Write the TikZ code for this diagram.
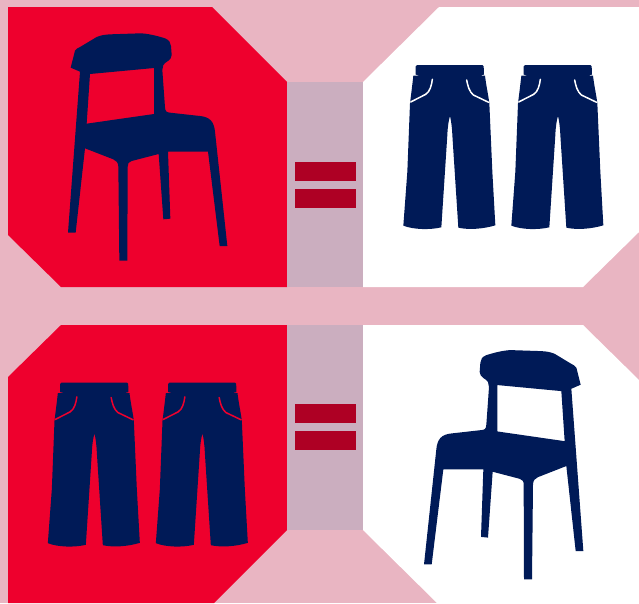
\documentclass[tikz,border=0pt]{standalone}
\definecolor{cPink}{HTML}{E9B5C2}
\definecolor{cMauve}{HTML}{CBAEBF}
\definecolor{cRed}{HTML}{EE002D}
\definecolor{cNavy}{HTML}{001A57}
\definecolor{cBar}{HTML}{AE0024}
\tikzset{
  garment/.style={fill=cNavy,draw=none,even odd rule},
  pocket/.style={line width=1.5pt,line cap=round},
  bar/.style={fill=cBar,draw=none},
  band/.style={fill=cMauve,draw=none},
}
\newcommand{\Chair}{%
  \fill[garment] (62,143) -- (75,92) .. controls (78,86) and (85,84) .. (90,81)
    -- (140,51) .. controls (155,45) and (165,44) .. (180,43)
    -- (270,40) .. controls (290,40) and (320,47) .. (345,55)
    .. controls (358,60) and (362,68) .. (363,78)
    -- (365,105) .. controls (365,122) and (345,125) .. (340,135)
    -- (337,150) -- (345,262) .. controls (346,275) and (350,277) .. (360,278)
    -- (450,288) .. controls (480,291) and (492,305) .. (495,335)
    -- (532,678) -- (509,678) -- (474,395) -- (354,395) -- (361,596) -- (340,598)
    -- (326,402) -- (245,423) .. controls (236,426) and (233,430) .. (233,440)
    -- (232,722) -- (208,722) -- (205,440) .. controls (205,428) and (198,421) .. (190,418)
    -- (105,385) -- (77,638) -- (54,638) -- (90,155) -- cycle
    (120,162) -- (312,144) -- (312,282) -- (110,311) -- cycle;
}
\newcommand{\Pants}[1]{%
  \fill[garment] (62,34) .. controls (62,31) and (63,30) .. (66,30)
    -- (262,30) .. controls (265,30) and (266,31) .. (266,34)
    -- (267,59) -- (252,61) -- (270,62) .. controls (274,95) and (280,120) .. (283,145)
    -- (292,350) -- (301,511) .. controls (265,522) and (220,525) .. (190,518)
    -- (172,240) .. controls (171,215) and (168,195) .. (165,183)
    .. controls (161,195) and (158,215) .. (157,240)
    -- (139,517) .. controls (105,525) and (55,524) .. (25,512)
    -- (37,350) -- (45,145) .. controls (48,120) and (52,90) .. (55,62)
    -- (78,61) -- (62,59) -- cycle;
  \draw[pocket,#1] (112,73) .. controls (110,90) and (105,110) .. (92,118) -- (47,141);
  \draw[pocket,#1] (215,75) .. controls (218,92) and (223,110) .. (235,120) -- (281,142);
}
\begin{document}
\begin{tikzpicture}[x=1pt,y=-1pt]
\useasboundingbox (0,0) rectangle (639,603);

% background
\fill[cPink] (0,0) rectangle (639,603);

% top row panels
\fill[cRed] (8,7) -- (212,7) -- (287,82) -- (287,287) -- (61,287) -- (8,235) -- cycle;
\fill[white] (363,82) -- (439,7) -- (639,7) -- (639,232) -- (583,287) -- (363,287) -- cycle;
\fill[band] (287,82) rectangle (363,287);

% bottom row panels
\fill[cRed] (61,325) -- (287,325) -- (287,530) -- (214,603) -- (8,603) -- (8,377) -- cycle;
\fill[white] (363,325) -- (583,325) -- (639,380) -- (639,603) -- (437,603) -- (363,530) -- cycle;
\fill[band] (287,325) rectangle (363,530);

% equals signs
\fill[bar] (295,162) rectangle (356,181);
\fill[bar] (295,189) rectangle (356,208);
\fill[bar] (295,404) rectangle (356,423);
\fill[bar] (295,431) rectangle (356,450);

% chair on red
\begin{scope}[shift={(50,20)},scale=1/3]
  \Chair
\end{scope}

% trousers on white
\begin{scope}[shift={(395,55)},scale=1/3]
  \Pants{white}
\end{scope}
\begin{scope}[shift={(503,55)},scale=1/3]
  \Pants{white}
\end{scope}

% trousers on red
\begin{scope}[shift={(39.5,372.5)},scale=1/3]
  \Pants{cRed}
\end{scope}
\begin{scope}[shift={(147.5,372.5)},scale=1/3]
  \Pants{cRed}
\end{scope}

% chair on white, mirrored
\begin{scope}[shift={(601.33,336.67)},xscale=-1/3,yscale=0.336]
  \Chair
\end{scope}

\end{tikzpicture}
\end{document}
